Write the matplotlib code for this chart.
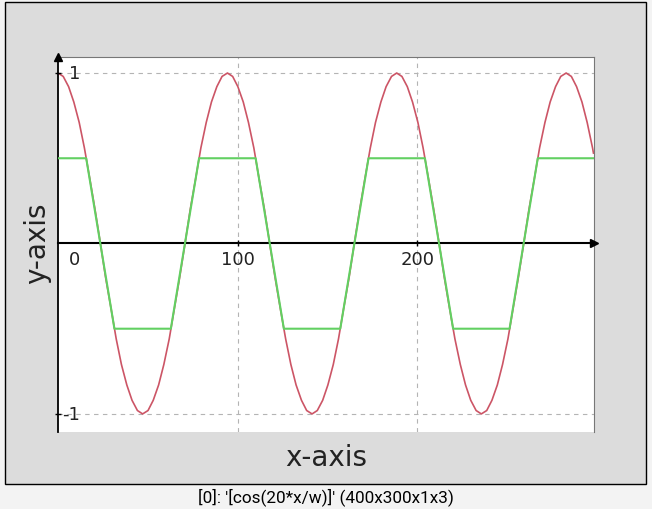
import matplotlib
matplotlib.use("Agg")
import matplotlib.pyplot as plt
from matplotlib.patches import Rectangle

# cosine profile (one sample every 1/32 of a period)
x_red = [0.0, 2.9, 5.9, 8.8, 11.8, 14.7, 17.7, 20.6, 23.6, 26.5, 29.5, 32.4,
         35.3, 38.3, 41.2, 44.2, 47.1, 50.1, 53.0, 56.0, 58.9, 61.9, 64.8, 67.7,
         70.7, 73.6, 76.6, 79.5, 82.5, 85.4, 88.4, 91.3,
         94.3, 97.2, 100.1, 103.1, 106.0, 109.0, 111.9, 114.9, 117.8, 120.8,
         123.7, 126.7, 129.6, 132.5, 135.5, 138.4, 141.4, 144.3, 147.3, 150.2,
         153.2, 156.1, 159.0, 162.0, 164.9, 167.9, 170.8, 173.8, 176.7, 179.7,
         182.6, 185.6,
         188.5, 191.4, 194.4, 197.3, 200.3, 203.2, 206.2, 209.1, 212.1, 215.0,
         217.9, 220.9, 223.9, 226.8, 229.7, 232.7, 235.6, 238.6, 241.5, 244.5,
         247.4, 250.4, 253.3, 256.2, 259.2, 262.1, 265.1, 268.0, 271.0, 273.9,
         276.9, 279.8,
         282.8, 285.7, 288.6, 291.6, 294.5, 297.5, 298.0]
y_red = [1.0, 0.98, 0.92, 0.83, 0.71, 0.56, 0.38, 0.2, 0.0, -0.2, -0.38, -0.56,
         -0.71, -0.83, -0.92, -0.98, -1.0, -0.98, -0.92, -0.83, -0.71, -0.56,
         -0.38, -0.2, 0.0, 0.2, 0.38, 0.56, 0.71, 0.83, 0.92, 0.98,
         1.0, 0.98, 0.92, 0.83, 0.71, 0.56, 0.38, 0.2, 0.0, -0.2, -0.38, -0.56,
         -0.71, -0.83, -0.92, -0.98, -1.0, -0.98, -0.92, -0.83, -0.71, -0.56,
         -0.38, -0.2, 0.0, 0.2, 0.38, 0.56, 0.71, 0.83, 0.92, 0.98,
         1.0, 0.98, 0.92, 0.83, 0.71, 0.56, 0.38, 0.2, 0.0, -0.2, -0.38, -0.56,
         -0.71, -0.83, -0.92, -0.98, -1.0, -0.98, -0.92, -0.83, -0.71, -0.56,
         -0.38, -0.2, 0.0, 0.2, 0.38, 0.56, 0.71, 0.83, 0.92, 0.98,
         1.0, 0.98, 0.92, 0.83, 0.71, 0.56, 0.53]

# clipped profile (corners where it leaves / reaches +-0.5)
x_green = [0.0, 15.7, 31.4, 62.8, 78.5, 110.0, 125.7, 157.1, 172.8, 204.2,
           219.9, 251.3, 267.0, 298.0]
y_green = [0.5, 0.5, -0.5, -0.5, 0.5, 0.5, -0.5, -0.5, 0.5, 0.5,
           -0.5, -0.5, 0.5, 0.5]

x_ticks = [0, 100, 200]
y_ticks = [1, -1]

W, H = 652, 510
fig = plt.figure(figsize=(W / 100, H / 100), dpi=100, facecolor="#f3f3f3")

# grey window panel
fig.patches.append(Rectangle((5 / W, (H - 485) / H), 641 / W, 482 / H,
                             transform=fig.transFigure, facecolor="#dcdcdc",
                             edgecolor="black", linewidth=1.0, zorder=-5))

x0, x1 = 58, 594
y0, y1 = 58, 433
ax = fig.add_axes([x0 / W, (H - y1) / H, (x1 - x0) / W, (y1 - y0) / H])
ax.set_zorder(2)
ax.set_facecolor("white")
ax.set_xlim(0, 298.3)
ax.set_ylim(-1.106, 1.094)

for s in ["top", "right"]:
    ax.spines[s].set_color("#777777")
    ax.spines[s].set_linewidth(0.8)
ax.spines["left"].set_color("black")
ax.spines["left"].set_linewidth(1.3)
ax.spines["bottom"].set_position(("data", 0))
ax.spines["bottom"].set_color("black")
ax.spines["bottom"].set_linewidth(1.5)
ax.set_xticks([])
ax.set_yticks([])

# dashed grid
for xv in x_ticks[1:]:
    ax.axvline(xv, color="#b4b4b4", lw=0.8, dashes=(4, 4), zorder=1)
for yv in y_ticks:
    ax.axhline(yv, color="#b4b4b4", lw=0.8, dashes=(4, 4), zorder=1)

ax.plot(x_red, y_red, color="#cc5566", lw=1.2, zorder=2)
ax.plot(x_green, y_green, color="#62d062", lw=1.5, zorder=3)

# axis arrows
ax.plot([298.3], [0], marker=">", color="black", markersize=6, clip_on=False, zorder=5)
ax.plot([0], [1.094], marker="^", color="black", markersize=6, clip_on=False, zorder=5)

# tick marks and labels
ax.plot(x_ticks[1:], [0, 0], "|", color="black", markersize=4, clip_on=False, zorder=5)
ax.plot([0, 0], y_ticks, "_", color="black", markersize=4, clip_on=False, zorder=5)
tick_font = dict(fontsize=13, color="#222222", family="DejaVu Sans")
ax.text(6, -0.04, "0", ha="left", va="top", **tick_font)
for xv in x_ticks[1:]:
    ax.text(xv, -0.04, str(xv), ha="center", va="top", **tick_font)
for yv in y_ticks:
    ax.text(12.5, yv, str(yv), ha="right", va="center", **tick_font)

fig.text((x0 + x1) / 2 / W, 1 - 458 / H, "x-axis", ha="center", va="center",
         fontsize=20, color="#222222", family="DejaVu Sans")
fig.text(37 / W, 1 - 243 / H, "y-axis", ha="center", va="center", rotation=90,
         fontsize=20, color="#222222", family="DejaVu Sans")
fig.text(0.5, 1 - 497 / H, "[0]: '[cos(20*x/w)]' (400x300x1x3)", ha="center",
         va="center", fontsize=12.3, color="black", family="Roboto")

fig.savefig("out.png", dpi=100, facecolor=fig.get_facecolor())
